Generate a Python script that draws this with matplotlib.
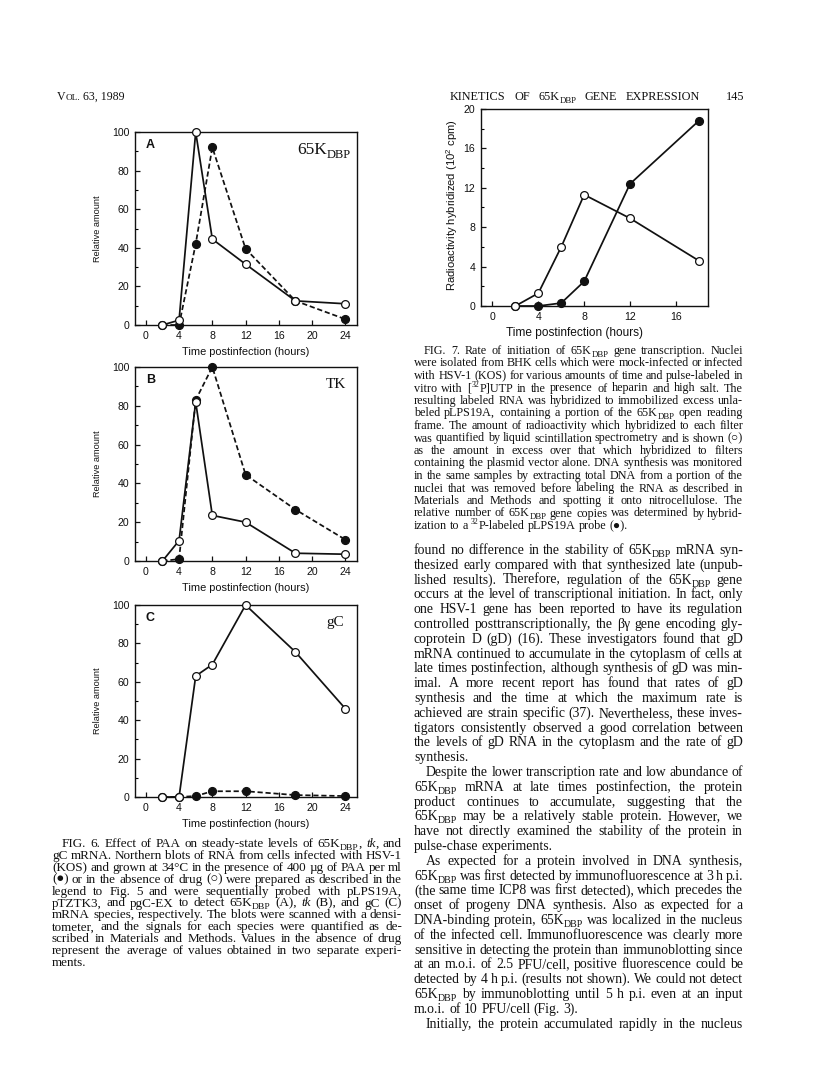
import re
import matplotlib
matplotlib.use("Agg")
import matplotlib.pyplot as plt
from matplotlib.font_manager import FontProperties

# ---- data ----
hours_fig6 = [2, 4, 6, 8, 12, 18, 24]
a_no_drug = [0, 2.5, 100, 44.5, 31.5, 12.5, 11]
a_paa = [0, 0, 42, 92, 39.5, 12.5, 3]
b_no_drug = [0, 10.5, 82, 23.5, 20, 4, 3.5]
b_paa = [0, 1, 83, 100, 44.5, 26.5, 11]
c_no_drug = [0, 0, 63, 69, 100, 75.5, 46]
c_paa = [0, 0, 0.5, 3, 3, 1, 0.5]

hours_fig7 = [2, 4, 6, 8, 12, 18]
rna_cpm = [0, 1.3, 6, 11.3, 8.9, 4.6]
dna_copies = [0, 0, 0.3, 2.5, 12.4, 18.8]

fig6_ticks = [0, 4, 8, 12, 16, 20, 24]
fig7_ticks = [0, 4, 8, 12, 16]

caption6 = [
    "FIG. 6. Effect of PAA on steady-state levels of 65K_{DBP}, *tk*, and",
    "gC mRNA. Northern blots of RNA from cells infected with HSV-1",
    "(KOS) and grown at 34°C in the presence of 400 µg of PAA per ml",
    "(●) or in the absence of drug (○) were prepared as described in the",
    "legend to Fig. 5 and were sequentially probed with pLPS19A,",
    "pTZTK3, and pgC-EX to detect 65K_{DBP} (A), *tk* (B), and gC (C)",
    "mRNA species, respectively. The blots were scanned with a densi-",
    "tometer, and the signals for each species were quantified as de-",
    "scribed in Materials and Methods. Values in the absence of drug",
    "represent the average of values obtained in two separate experi-",
    "ments.",
]

caption7 = [
    "FIG. 7. Rate of initiation of 65K_{DBP} gene transcription. Nuclei",
    "were isolated from BHK cells which were mock-infected or infected",
    "with HSV-1 (KOS) for various amounts of time and pulse-labeled in",
    "vitro with [^{32}P]UTP in the presence of heparin and high salt. The",
    "resulting labeled RNA was hybridized to immobilized excess unla-",
    "beled pLPS19A, containing a portion of the 65K_{DBP} open reading",
    "frame. The amount of radioactivity which hybridized to each filter",
    "was quantified by liquid scintillation spectrometry and is shown (○)",
    "as the amount in excess over that which hybridized to filters",
    "containing the plasmid vector alone. DNA synthesis was monitored",
    "in the same samples by extracting total DNA from a portion of the",
    "nuclei that was removed before labeling the RNA as described in",
    "Materials and Methods and spotting it onto nitrocellulose. The",
    "relative number of 65K_{DBP} gene copies was determined by hybrid-",
    "ization to a ^{32}P-labeled pLPS19A probe (●).",
]

body = [
    "found no difference in the stability of 65K_{DBP} mRNA syn-",
    "thesized early compared with that synthesized late (unpub-",
    "lished results). Therefore, regulation of the 65K_{DBP} gene",
    "occurs at the level of transcriptional initiation. In fact, only",
    "one HSV-1 gene has been reported to have its regulation",
    "controlled posttranscriptionally, the βγ gene encoding gly-",
    "coprotein D (gD) (16). These investigators found that gD",
    "mRNA continued to accumulate in the cytoplasm of cells at",
    "late times postinfection, although synthesis of gD was min-",
    "imal. A more recent report has found that rates of gD",
    "synthesis and the time at which the maximum rate is",
    "achieved are strain specific (37). Nevertheless, these inves-",
    "tigators consistently observed a good correlation between",
    "the levels of gD RNA in the cytoplasm and the rate of gD",
    "synthesis.",
    "Despite the lower transcription rate and low abundance of",
    "65K_{DBP} mRNA at late times postinfection, the protein",
    "product continues to accumulate, suggesting that the",
    "65K_{DBP} may be a relatively stable protein. However, we",
    "have not directly examined the stability of the protein in",
    "pulse-chase experiments.",
    "As expected for a protein involved in DNA synthesis,",
    "65K_{DBP} was first detected by immunofluorescence at 3 h p.i.",
    "(the same time ICP8 was first detected), which precedes the",
    "onset of progeny DNA synthesis. Also as expected for a",
    "DNA-binding protein, 65K_{DBP} was localized in the nucleus",
    "of the infected cell. Immunofluorescence was clearly more",
    "sensitive in detecting the protein than immunoblotting since",
    "at an m.o.i. of 2.5 PFU/cell, positive fluorescence could be",
    "detected by 4 h p.i. (results not shown). We could not detect",
    "65K_{DBP} by immunoblotting until 5 h p.i. even at an input",
    "m.o.i. of 10 PFU/cell (Fig. 3).",
    "Initially, the protein accumulated rapidly in the nucleus",
]
body_indent = [15, 21, 32]
body_last = [14, 20, 31]

W, H = 816, 1073
plt.rcParams["font.family"] = ["Liberation Sans", "DejaVu Sans"]
plt.rcParams["mathtext.fontset"] = "custom"
plt.rcParams["mathtext.rm"] = "Liberation Sans"
plt.rcParams["mathtext.default"] = "rm"

fig = plt.figure(figsize=(W / 100, H / 100), dpi=100)
renderer = fig.canvas.get_renderer()
SERIF = ["Liberation Serif", "DejaVu Serif"]
INK = "#111111"


def parse(word):
    out = []
    for m in re.finditer(r"_\{([^}]*)\}|\^\{([^}]*)\}|\*([^*]*)\*|~\{([^}]*)\}|([^_^*~]+)", word):
        for kind, g in zip(["sub", "sup", "it", "sc", "n"], m.groups()):
            if g is not None:
                out.append((g, kind))
    return out


def seg_font(kind, size, family):
    px = size * 100 / 72
    if kind == "sub":
        return FontProperties(family=family, size=size * 0.72), px * 0.22
    if kind == "sup":
        return FontProperties(family=family, size=size * 0.65), -px * 0.38
    if kind == "it":
        return FontProperties(family=family, style="italic", size=size), 0
    if kind == "sc":
        return FontProperties(family=family, size=size * 0.78), 0
    return FontProperties(family=family, size=size), 0


def word_width(word, size, family):
    w = 0
    for txt, kind in parse(word):
        fp, _ = seg_font(kind, size, family)
        w += renderer.get_text_width_height_descent(txt, fp, ismath=False)[0]
    return w


def draw_word(x, y, word, size, family, weight="normal"):
    for txt, kind in parse(word):
        fp, dy = seg_font(kind, size, family)
        fp.set_weight(weight)
        fig.text(x / W, 1 - (y + dy) / H, txt, fontproperties=fp,
                 ha="left", va="baseline", color=INK)
        x += renderer.get_text_width_height_descent(txt, fp, ismath=False)[0]
    return x


def draw_line(x0, x1, y, line, size, family=SERIF, justify=True):
    words = line.split()
    widths = [word_width(w, size, family) for w in words]
    space = size * 100 / 72 * 0.25
    if justify and len(words) > 1:
        space = max((x1 - x0 - sum(widths)) / (len(words) - 1), 1.0)
    x = x0
    for w, wd in zip(words, widths):
        draw_word(x, y, w, size, family)
        x += wd + space


def fit_size(lines, x0, x1, skip, indent_rows, indent, base=8.0, gap=0.22):
    # largest size at which every justified line fits with a minimal word gap
    best = 99
    for i, line in enumerate(lines):
        if i in skip:
            continue
        words = line.split()
        need = sum(word_width(w, base, SERIF) for w in words)
        need += (len(words) - 1) * gap * base * 100 / 72
        avail = x1 - x0 - (indent if i in indent_rows else 0)
        best = min(best, base * avail / need)
    return best


def draw_para(lines, x0, x1, y0, step, indent_rows, last_rows, indent, scale=1.0):
    size = fit_size(lines, x0, x1, last_rows, indent_rows, indent) * scale
    for i, line in enumerate(lines):
        xs = x0 + (indent if i in indent_rows else 0)
        draw_line(xs, x1, y0 + i * step, line, size, justify=i not in last_rows)


# ---- header ----
x = draw_word(57, 100, "V~{OL.}", 8.6, SERIF)
draw_word(x + 3, 100, "63, 1989", 8.6, SERIF)
draw_line(450, 700, 100, "KINETICS OF 65K_{DBP} GENE EXPRESSION", 8.8)
draw_word(726, 100, "145", 8.8, SERIF)


def px_axes(left, right, top, bottom):
    return fig.add_axes([left / W, 1 - bottom / H, (right - left) / W, (bottom - top) / H])


def style(ax, xlim, ylim, xticks, yticks, yminor):
    ax.set_xlim(*xlim)
    ax.set_ylim(*ylim)
    ax.set_xticks(xticks)
    ax.set_yticks(yticks)
    ax.set_yticks(yminor, minor=True)
    ax.tick_params(direction="in", length=3.5, width=0.9, labelsize=7.6, pad=4,
                   colors=INK)
    ax.tick_params(which="minor", direction="in", length=2, width=0.8)
    for sp in ax.spines.values():
        sp.set_linewidth(1.0)
        sp.set_color(INK)


def curves(ax, t, paa, nodrug, dashed=True):
    ls = "--" if dashed else "-"
    ax.plot(t, paa, ls, color=INK, lw=1.25, marker="o", ms=5.6, mfc=INK,
            mec=INK, clip_on=False, zorder=3, dashes=(3, 1.6) if dashed else (None, None))
    ax.plot(t, nodrug, "-", color=INK, lw=1.25, marker="o", ms=5.6, mfc="white",
            mec=INK, mew=0.9, clip_on=False, zorder=4)


# ---- Fig. 6 panels ----
panels = [
    ("A", "65K_{DBP}", a_paa, a_no_drug, 132, 325),
    ("B", "TK", b_paa, b_no_drug, 367, 561),
    ("C", "gC", c_paa, c_no_drug, 605, 797),
]
for letter, name, paa, nodrug, top, bottom in panels:
    ax = px_axes(135, 357, top, bottom)
    curves(ax, hours_fig6, paa, nodrug)
    style(ax, (-1.3, 25.4), (0, 100), fig6_ticks, range(0, 101, 20), range(10, 100, 20))
    fig.text(146 / W, 1 - (top + 13) / H, letter, fontsize=9, fontweight="bold",
             ha="left", va="center", color=INK)
    if name == "65K_{DBP}":
        draw_word(297, top + 22, name, 12.5, SERIF)
    else:
        draw_word(326, top + 21, name, 11, SERIF)
    fig.text(246 / W, 1 - (bottom + 27) / H, "Time postinfection (hours)",
             fontsize=7.9, ha="center", va="center", color=INK)
    fig.text(98 / W, 1 - (top + bottom) / 2 / H, "Relative amount", fontsize=6.6,
             rotation=90, ha="center", va="center", color=INK)

# ---- Fig. 7 panel ----
ax7 = px_axes(481, 708, 109, 306)
curves(ax7, hours_fig7, dna_copies, rna_cpm, dashed=False)
style(ax7, (-1.0, 18.8), (0, 20), fig7_ticks, range(0, 21, 4), range(2, 20, 4))
fig.text(575 / W, 1 - 333 / H, "Time postinfection (hours)", fontsize=8.6,
         ha="center", va="center", color=INK)
fig.text(452 / W, 1 - 205 / H, r"Radioactivity hybridized (10$^{2}$ cpm)", fontsize=8.1,
         rotation=90, ha="center", va="center", color=INK)

# ---- text blocks ----
draw_para(caption6, 52, 402, 847, 11.9, [0], [len(caption6) - 1], 10)
draw_para(caption7, 414, 743, 354, 12.5, [0], [len(caption7) - 1], 10)
draw_para(body, 414, 743, 554, 14.8, body_indent, body_last, 12)

fig.savefig("out.png", dpi=100)
